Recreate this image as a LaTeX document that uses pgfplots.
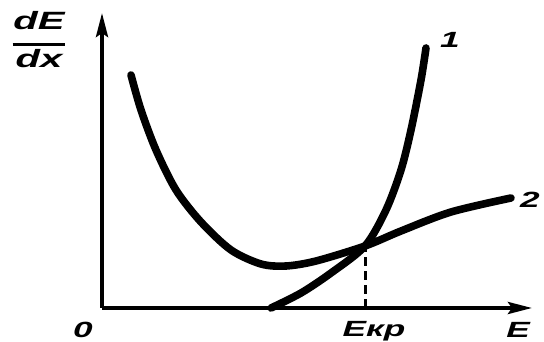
\documentclass[border=0pt]{standalone}
\usepackage{pgfplots}
\pgfplotsset{compat=1.18}
\usepackage{fontspec}
\setmainfont{Liberation Sans}
\usetikzlibrary{arrows.meta}
\begin{document}
\begin{tikzpicture}[x=1pt,y=1pt]
\begin{axis}[
  scale only axis, width=430pt, height=295pt,
  xmin=0, xmax=430, ymin=0, ymax=295,
  axis lines=left,
  axis line style={line width=3.8pt, -{Stealth[length=24pt,width=12pt,inset=4pt]}},
  xtick=\empty, ytick=\empty,
  clip=false,
]
\path[use as bounding box] (axis cs:-102,-34) rectangle (axis cs:442,308);
% curve 1 (steep)
\addplot[black, line width=7.6pt, smooth, tension=0.5, line cap=round] coordinates {
(169,0) (199,15) (229,35) (263,62) (284,98) (299,138) (309,178) (319,228) (324,260)};
% curve 2
\addplot[black, line width=7.6pt, smooth, tension=0.5, line cap=round] coordinates {
(29,233) (39,198) (54,158) (74,118) (99,86) (129,58) (159,44) (184,42) (214,47) (263,62) (299,77) (349,96) (409,110)};
% dashed critical energy
\addplot[black, line width=3pt, dash pattern=on 9pt off 5pt] coordinates {(263,0) (263,62)};
\tikzset{lab/.style={font=\bfseries\itshape\fontsize{22}{22}\selectfont, xscale=1.6}}
\node[lab] at (axis cs:348,268) {1};
\node[lab] at (axis cs:428,108) {2};
\node[lab] at (axis cs:-19,-22) {0};
\node[lab] at (axis cs:272,-23) {Екр};
\node[lab] at (axis cs:416,-22) {E};
\node[font=\bfseries\itshape\fontsize{25}{25}\selectfont, xscale=1.6, inner sep=0pt] at (axis cs:-63,265) {\begin{tabular}{@{}c@{}}dE\\[-8pt]\rule{33pt}{3pt}\\[-5pt]dx\end{tabular}};
\end{axis}
\end{tikzpicture}
\end{document}
